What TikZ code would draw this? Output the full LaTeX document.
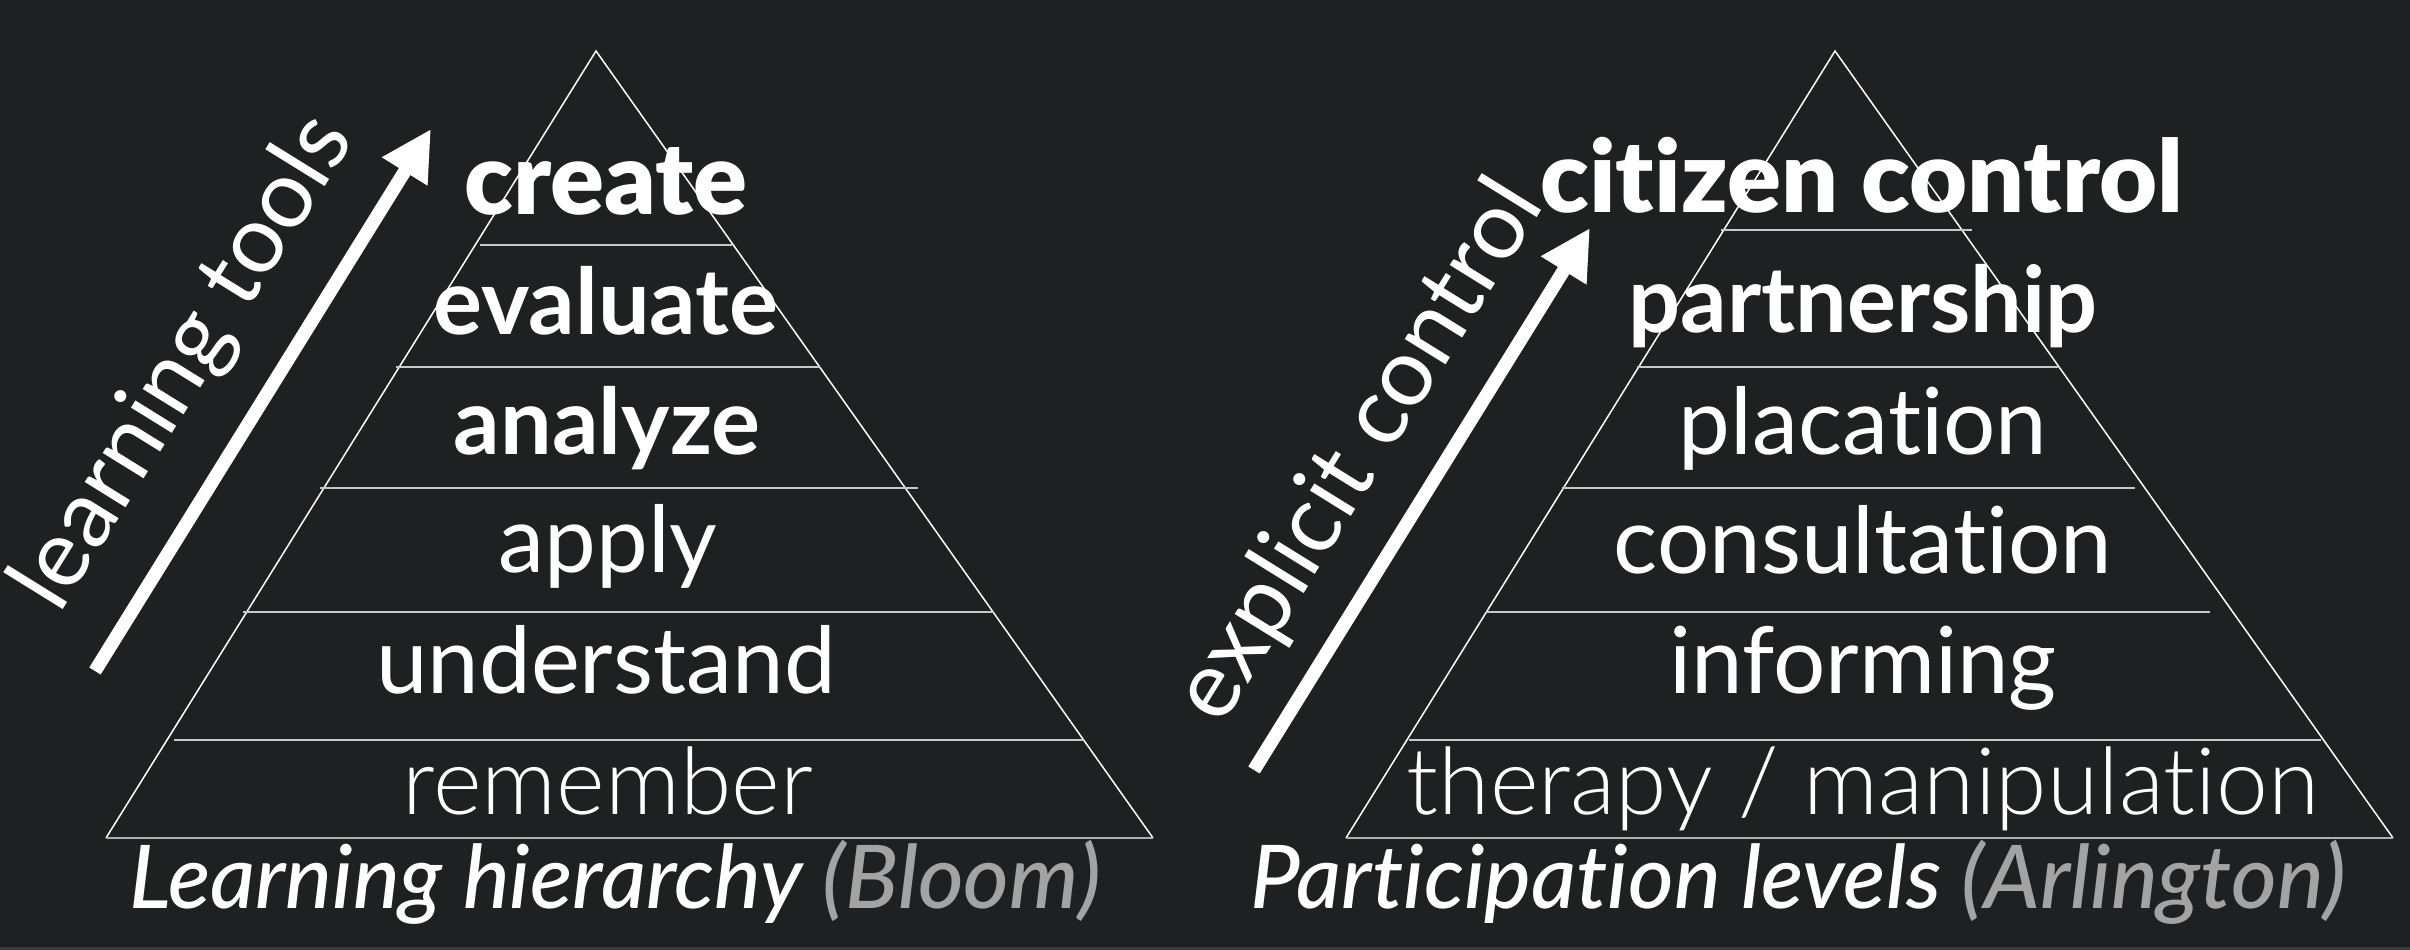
\documentclass[tikz,border=0pt]{standalone}
\usepackage{fontspec}
\usetikzlibrary{arrows.meta}
\defaultfontfeatures{Ligatures={TeX,NoCommon}}
\setmainfont{Lato}
\IfFontExistsTF{Lato Black}{\newfontfamily\fheavy{Lato Black}}{\newcommand\fheavy{\bfseries}}
\IfFontExistsTF{Lato Light}{\newfontfamily\fthin{Lato Light}}{\newcommand\fthin{}}
\IfFontExistsTF{Lato Medium}{\newfontfamily\fmedium{Lato Medium}}{\newcommand\fmedium{}}

\definecolor{bg}{HTML}{1F2022}
\definecolor{strip}{HTML}{3B3B3D}
\definecolor{rulegray}{HTML}{C8C8C8}
\definecolor{basegray}{HTML}{B0B0B0}
\definecolor{notegray}{HTML}{A3A3A3}

\tikzset{
  level/.style={anchor=base, inner sep=0pt, text=white},
  heavylabel/.style={level, font=\fheavy\fontsize{28.5}{28.5}\selectfont},
  boldlabel/.style={level, font=\bfseries\fontsize{26.1}{26.1}\selectfont},
  plainlabel/.style={level, font=\fontsize{26.3}{26.3}\selectfont},
  thinlabel/.style={level, font=\fthin\fontsize{26.5}{26.5}\selectfont},
  caption/.style={level, font=\fmedium\itshape\fontsize{25}{25}\selectfont},
  sidelabel/.style={level, rotate=58.2, font=\fontsize{27}{27}\selectfont},
  edge/.style={draw=white, line width=0.15mm, line join=miter},
  tier/.style={draw=rulegray, line width=0.15mm},
  floor/.style={draw=basegray, line width=0.22mm},
  rise/.style={draw=white, line width=1.34mm, -{Triangle[length=5mm,width=5mm]}}
}

\begin{document}
\begin{tikzpicture}[x=0.1mm, y=-0.1mm]
  % canvas
  \fill[bg] (0,0) rectangle (2410,950);
  \fill[strip] (0,947) rectangle (2410,950);
  \useasboundingbox (0,0) rectangle (2410,950);

  % ---------- Bloom pyramid ----------
  \coordinate (bA) at (596,51);
  \coordinate (bL) at (106,838);
  \coordinate (bR) at (1153,838);
  \draw[edge] (bL) -- (bA) -- (bR);
  \draw[floor] (bL) -- (bR);
  \foreach \n/\y/\xa/\xb in {1/245/480/732, 2/367/396/820, 3/488/320/918, 4/612/243/994, 5/740/174/1084}{
    \coordinate (bt\n a) at (\xa,\y);
    \coordinate (bt\n b) at (\xb,\y);
    \draw[tier] (bt\n a) -- (bt\n b);
  }
  \node[heavylabel] (create)     at (606,215) {create};
  \node[boldlabel]  (evaluate)   at (606,335) {evaluate};
  \node[boldlabel]  (analyze)    at (607,455) {analyze};
  \node[plainlabel] (apply)      at (608,573) {apply};
  \node[plainlabel] (understand) at (606,694) {understand};
  \node[thinlabel]  (remember)   at (608,815) {remember};
  \node[caption]    (bloomcap)   at (615,909) {Learning hierarchy \textcolor{notegray}{(Bloom)}};

  \coordinate (btail) at (95,671);
  \coordinate (btip)  at (431,129);
  \draw[rise] (btail) -- (btip);
  \node[sidelabel] (tools) at (207,377) {learning tools};

  % ---------- Arlington pyramid ----------
  \coordinate (aA) at (1835,51);
  \coordinate (aL) at (1346,838);
  \coordinate (aR) at (2393,838);
  \draw[edge] (aL) -- (aA) -- (aR);
  \draw[floor] (aL) -- (aR);
  \foreach \n/\y/\xa/\xb in {1/230/1721/1972, 2/367/1637/2060, 3/488/1562/2135, 4/612/1486/2210, 5/740/1409/2321}{
    \coordinate (at\n a) at (\xa,\y);
    \coordinate (at\n b) at (\xb,\y);
    \draw[tier] (at\n a) -- (at\n b);
  }
  \node[heavylabel] (citizen)      at (1862,213) {citizen control};
  \node[boldlabel]  (partnership)  at (1863,333) {partnership};
  \node[plainlabel] (placation)    at (1863,455) {placation};
  \node[plainlabel] (consultation) at (1863,574) {consultation};
  \node[plainlabel] (informing)    at (1863,694) {informing};
  \node[thinlabel]  (therapy)      at (1863,815) {therapy / manipulation};
  \node[caption]    (arlcap)       at (1798,909) {Participation levels \textcolor{notegray}{(Arlington)}};

  \coordinate (atail) at (1254,770);
  \coordinate (atip)  at (1590,228);
  \draw[rise] (atail) -- (atip);
  \node[sidelabel] (explicit) at (1383,466) {explicit control};
\end{tikzpicture}
\end{document}
